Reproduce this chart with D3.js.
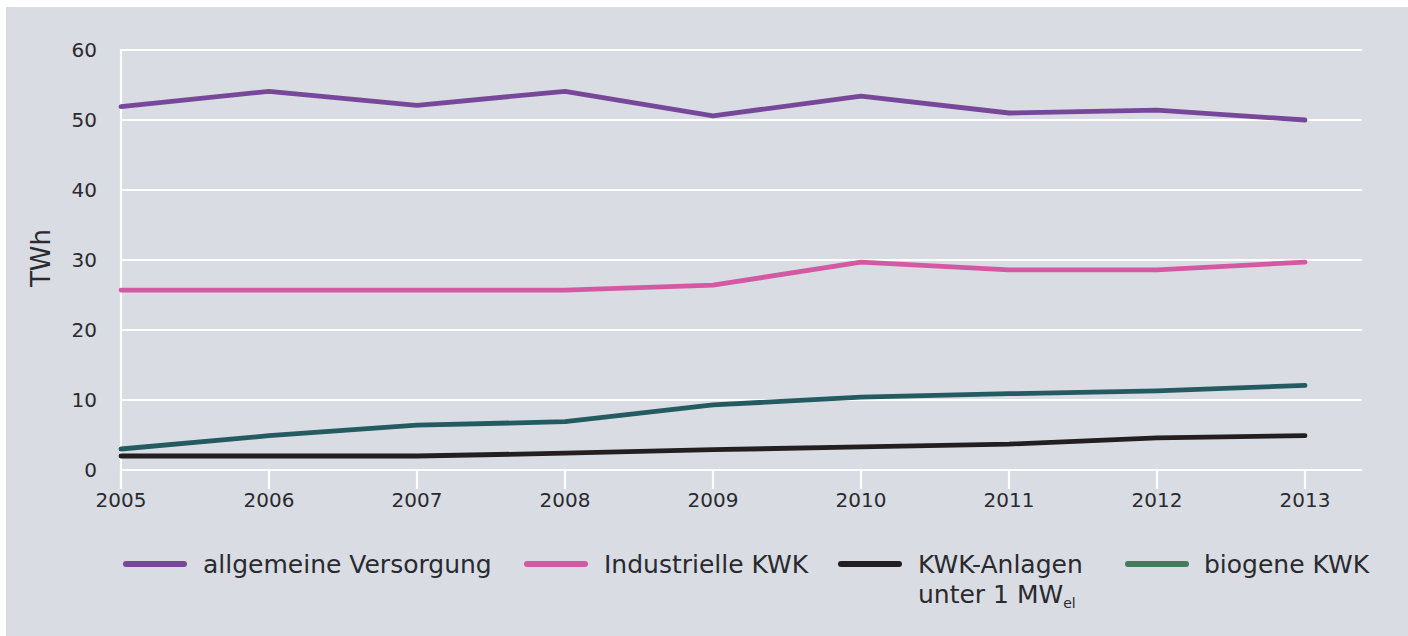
<!DOCTYPE html>
<html><head><meta charset="utf-8">
<script src="https://cdn.jsdelivr.net/npm/d3@7"></script>
<style>
html,body{margin:0;padding:0;background:#fff;}
svg text{font-family:'DejaVu Sans','Noto Sans',sans-serif;fill:#2a2a2e;}
</style></head>
<body>
<svg id="chart" width="1408" height="636"></svg>
<script>
const years = [2005,2006,2007,2008,2009,2010,2011,2012,2013];
const allgemeine = [51.9,54.1,52.1,54.1,50.6,53.4,51.0,51.4,50.0];
const industrielle = [25.7,25.7,25.7,25.7,26.4,29.7,28.6,28.6,29.7];
const kwkKlein = [2.0,2.0,2.0,2.4,2.9,3.3,3.7,4.6,4.9];
const biogene = [3.0,4.9,6.4,6.9,9.3,10.4,10.9,11.3,12.1];
const yTicks = [0,10,20,30,40,50,60];
const seriesNames = ["allgemeine Versorgung","Industrielle KWK","KWK-Anlagen unter 1 MWel","biogene KWK"];

const series = [
  {name:seriesNames[0], values:allgemeine, color:"#77479a", legend:"#77479a"},
  {name:seriesNames[1], values:industrielle, color:"#d35aa2", legend:"#d35aa2"},
  {name:seriesNames[3], values:biogene, color:"#235b61", legend:"#447b5d"},
  {name:seriesNames[2], values:kwkKlein, color:"#231f20", legend:"#231f20"}
];

const svg = d3.select("#chart");
svg.append("rect").attr("x",6).attr("y",7).attr("width",1402).attr("height",629).attr("fill","#d9dce3");

const x = d3.scaleLinear().domain([2005,2013]).range([121,1305]);
const y = d3.scaleLinear().domain([0,60]).range([470,50]);

// gridlines
svg.append("g").selectAll("line").data(yTicks).join("line")
  .attr("x1",121).attr("x2",1362).attr("y1",d=>y(d)).attr("y2",d=>y(d))
  .attr("stroke","#fff").attr("stroke-width",2.2);
// left axis line
svg.append("line").attr("x1",121).attr("x2",121).attr("y1",y(60)-1).attr("y2",489)
  .attr("stroke","#fff").attr("stroke-width",2.2);
// x ticks
svg.append("g").selectAll("line").data(years).join("line")
  .attr("x1",d=>x(d)).attr("x2",d=>x(d)).attr("y1",470).attr("y2",489)
  .attr("stroke","#fff").attr("stroke-width",2.2);

// y labels
svg.append("g").selectAll("text").data(yTicks).join("text")
  .attr("x",97).attr("y",d=>y(d)).attr("dy","0.36em").attr("text-anchor","end")
  .attr("font-size",20).text(d=>d);
// x labels
svg.append("g").selectAll("text").data(years).join("text")
  .attr("x",d=>x(d)).attr("y",507).attr("text-anchor","middle")
  .attr("font-size",20).text(d=>d);
// y title
svg.append("text").attr("transform","translate(50,258) rotate(-90)")
  .attr("text-anchor","middle").attr("font-size",26).text("TWh");

const line = d3.line().x((d,i)=>x(years[i])).y(d=>y(d));
svg.append("g").selectAll("path").data(series).join("path")
  .attr("d",d=>line(d.values)).attr("fill","none").attr("stroke",d=>d.color)
  .attr("stroke-width",4.8).attr("stroke-linejoin","round").attr("stroke-linecap","round");

// legend
const legendItems = [
  {s:series[0], x:126},
  {s:series[1], x:527},
  {s:series[3], x:841},
  {s:series[2], x:1128}
];
const lg = svg.append("g");
legendItems.forEach(it=>{
  lg.append("line").attr("x1",it.x).attr("x2",it.x+58).attr("y1",564).attr("y2",564)
    .attr("stroke",it.s.legend).attr("stroke-width",6).attr("stroke-linecap","round");
});
const fs = 25;
lg.append("text").attr("x",203).attr("y",573).attr("font-size",fs).text("allgemeine Versorgung");
lg.append("text").attr("x",604).attr("y",573).attr("font-size",fs).text("Industrielle KWK");
lg.append("text").attr("x",918).attr("y",573).attr("font-size",fs).text("KWK-Anlagen");
const t2 = lg.append("text").attr("x",918).attr("y",603).attr("font-size",fs);
t2.append("tspan").text("unter 1 MW");
t2.append("tspan").attr("font-size",14).attr("dy",5).text("el");
lg.append("text").attr("x",1204).attr("y",573).attr("font-size",fs).text("biogene KWK");
</script>
</body></html>
